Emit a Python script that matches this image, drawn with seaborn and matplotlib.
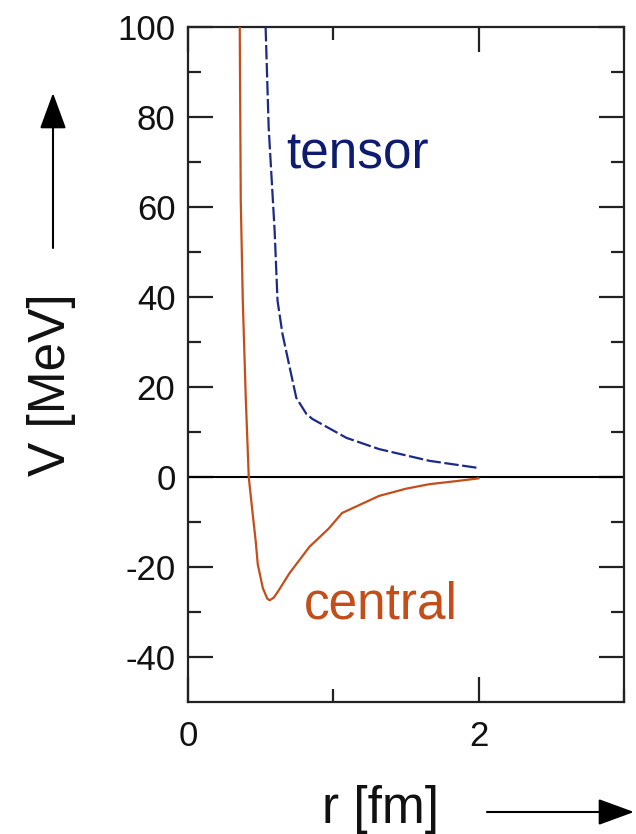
import numpy as np
import pandas as pd
import seaborn as sns
import matplotlib
matplotlib.use("Agg")
import matplotlib.pyplot as plt
from matplotlib.patches import FancyArrowPatch
from matplotlib.ticker import FixedLocator

# ---- data ----
central_r = [0.356, 0.363, 0.377, 0.397, 0.418, 0.445, 0.466, 0.480, 0.515,
             0.545, 0.562, 0.590, 0.620, 0.700, 0.836, 0.970, 1.060, 1.315, 1.500, 1.660, 1.850, 2.000]
central_V = [100.0, 61.5, 39.2, 18.0, 0.0, -8.2, -14.3, -19.4, -24.7,
             -27.0, -27.4, -26.8, -25.4, -21.3, -15.5, -11.4, -8.0, -4.2, -2.6, -1.6, -0.9, -0.3]

tensor_r = [0.534, 0.555, 0.596, 0.616, 0.650, 0.700, 0.745, 0.815, 0.856,
            1.090, 1.315, 1.660, 2.000]
tensor_V = [100.0, 77.7, 54.8, 39.2, 31.8, 24.3, 17.6, 14.0, 12.9,
            8.7, 6.2, 3.6, 2.0]

x_major = [0, 2]
x_minor = [1, 3]
y_major = [-40, -20, 0, 20, 40, 60, 80, 100]
y_minor = [-30, -10, 10, 30, 50, 70, 90]

central_color = "#c44e1a"
tensor_color = "#1c2a86"

sns.set_style("ticks")
plt.rcParams["font.family"] = ["Liberation Sans", "DejaVu Sans"]

fig = plt.figure(figsize=(6.36, 8.34), dpi=100)
ax = fig.add_axes([188 / 636, 1 - 702 / 834, 436 / 636, 675 / 834])

df_c = pd.DataFrame({"r": central_r, "V": central_V})
df_t = pd.DataFrame({"r": tensor_r, "V": tensor_V})

ax.axhline(0, color="black", lw=1.5, zorder=1)
sns.lineplot(data=df_c, x="r", y="V", ax=ax, color=central_color, lw=1.6,
             sort=False, estimator=None, zorder=3)
sns.lineplot(data=df_t, x="r", y="V", ax=ax, color=tensor_color, lw=1.6,
             sort=False, estimator=None, zorder=3, dashes=False)
ax.lines[-1].set_dashes([6.5, 1.6])

ax.set_xlim(0, 3)
ax.set_ylim(-50, 100)

ax.xaxis.set_major_locator(FixedLocator(x_major))
ax.xaxis.set_minor_locator(FixedLocator(x_minor))
ax.yaxis.set_major_locator(FixedLocator(y_major))
ax.yaxis.set_minor_locator(FixedLocator(y_minor))
ax.set_xticklabels([str(v) for v in x_major])
ax.set_yticklabels([str(v) for v in y_major])

ax.tick_params(which="both", direction="in", top=True, right=True,
               width=1.6, color="#222222", labelsize=25, labelcolor="#111111")
ax.tick_params(which="major", length=18)
ax.tick_params(which="minor", length=9.5)
ax.tick_params(axis="y", which="major", pad=9)
ax.tick_params(axis="x", which="major", pad=13)

for s in ax.spines.values():
    s.set_linewidth(1.6)
    s.set_color("#222222")
    s.set_visible(True)

ax.text(0.678, 68.6, "tensor", color="#0d1c70", fontsize=37,
        ha="left", va="baseline")
ax.text(0.795, -31.4, "central", color=central_color, fontsize=37,
        ha="left", va="baseline")

ax.set_xlabel("r [fm]", fontsize=37, color="#111111")
ax.xaxis.set_label_coords((381 - 188) / 436, (702 - 823) / 675)
ax.xaxis.label.set_va("baseline")
ax.xaxis.label.set_ha("center")

ax.set_ylabel("V [MeV]", fontsize=37, color="#111111")
ax.yaxis.set_label_coords((52 - 188) / 436, (702 - 385) / 675)
ax.yaxis.label.set_va("center")
ax.yaxis.label.set_ha("center")

# direction arrows
def px(x, y):
    return (x / 636, 1 - y / 834)

style = "-|>,head_length=1.5,head_width=0.55"
arr_y = FancyArrowPatch(px(53, 248), px(53, 93), transform=fig.transFigure,
                        arrowstyle=style, mutation_scale=15, lw=1.5,
                        color="black", shrinkA=0, shrinkB=0)
arr_x = FancyArrowPatch(px(487, 812), px(634, 812), transform=fig.transFigure,
                        arrowstyle=style, mutation_scale=15, lw=1.5,
                        color="black", shrinkA=0, shrinkB=0)
fig.add_artist(arr_y)
fig.add_artist(arr_x)

fig.savefig("out.png", dpi=100)
